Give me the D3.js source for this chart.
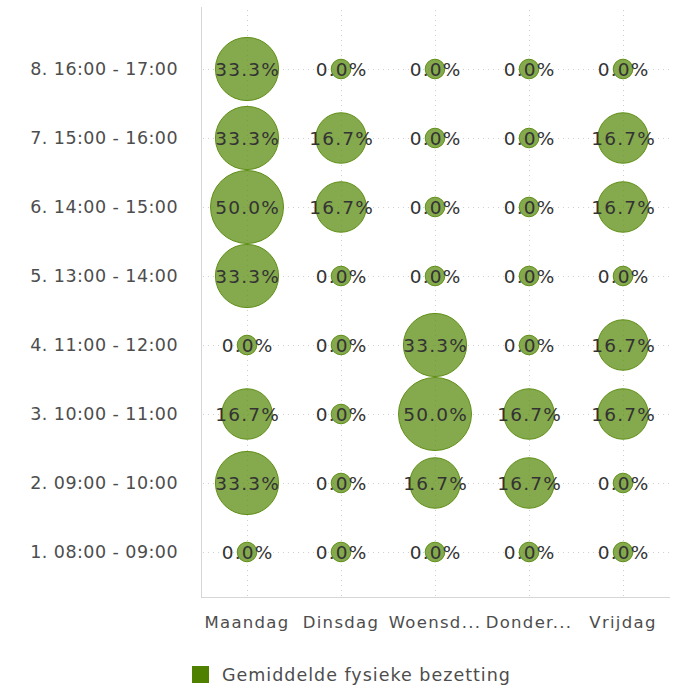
<!DOCTYPE html>
<html>
<head>
<meta charset="utf-8">
<script src="https://cdn.jsdelivr.net/npm/d3@7"></script>
<style>
  html, body { margin: 0; padding: 0; background: #fff; }
  svg { display: block; font-family: "DejaVu Sans", sans-serif; }
</style>
</head>
<body>
<svg id="chart" width="673" height="688"></svg>
<script>
// Weekdays (columns) and hourly slots (rows, bottom to top)
const days = ["Maandag", "Dinsdag", "Woensdag", "Donderdag", "Vrijdag"];
const dayLabels = ["Maandag", "Dinsdag", "Woensd...", "Donder...", "Vrijdag"];
const slots = [
  "1. 08:00 - 09:00", "2. 09:00 - 10:00", "3. 10:00 - 11:00", "4. 11:00 - 12:00",
  "5. 13:00 - 14:00", "6. 14:00 - 15:00", "7. 15:00 - 16:00", "8. 16:00 - 17:00"
];
// Average physical occupancy (%) per slot, one array per weekday
const maandag   = [0.0, 33.3, 16.7, 0.0, 33.3, 50.0, 33.3, 33.3];
const dinsdag   = [0.0, 0.0, 0.0, 0.0, 0.0, 16.7, 16.7, 0.0];
const woensdag  = [0.0, 16.7, 50.0, 33.3, 0.0, 0.0, 0.0, 0.0];
const donderdag = [0.0, 16.7, 16.7, 0.0, 0.0, 0.0, 0.0, 0.0];
const vrijdag   = [0.0, 0.0, 16.7, 16.7, 0.0, 16.7, 16.7, 0.0];
const seriesName = "Gemiddelde fysieke bezetting";

const byDay = [maandag, dinsdag, woensdag, donderdag, vrijdag];
const cells = [];
days.forEach((d, i) => slots.forEach((s, j) => cells.push({ day: d, slot: s, value: byDay[i][j] })));

const svg = d3.select("#chart");
const plot = { left: 201, right: 670, top: 7, bottom: 597 };

const x = d3.scaleBand().domain(days).range([200, 670]);
const y = d3.scalePoint().domain(slots).range([552, 69]);
const r = d3.scaleSqrt().domain([0, 50]).range([9.8, 36.5]);
const cx = d => x(d) + x.bandwidth() / 2;

const grid = "#cfcfcf";

// dotted grid lines
svg.append("g").selectAll("line").data(slots).join("line")
  .attr("x1", plot.left + 2).attr("x2", plot.right)
  .attr("y1", d => y(d) + 0.5).attr("y2", d => y(d) + 0.5)
  .attr("stroke", grid).attr("stroke-width", 1).attr("stroke-dasharray", "1,4");
svg.append("g").selectAll("line").data(days).join("line")
  .attr("x1", d => Math.round(cx(d)) + 0.5)
  .attr("x2", d => Math.round(cx(d)) + 0.5)
  .attr("y1", 10).attr("y2", plot.bottom)
  .attr("stroke", grid).attr("stroke-width", 1).attr("stroke-dasharray", "1,4");

// axis lines
svg.append("line").attr("x1", plot.left + 0.5).attr("x2", plot.left + 0.5)
  .attr("y1", plot.top).attr("y2", plot.bottom).attr("stroke", "#d6d6d6");
svg.append("line").attr("x1", plot.left).attr("x2", plot.right)
  .attr("y1", plot.bottom + 0.5).attr("y2", plot.bottom + 0.5).attr("stroke", "#d6d6d6");

// bubbles
svg.append("g").selectAll("circle").data(cells).join("circle")
  .attr("cx", d => cx(d.day))
  .attr("cy", d => y(d.slot))
  .attr("r", d => r(d.value))
  .attr("fill", "#5c8c12").attr("fill-opacity", 0.75)
  .attr("stroke", "#5f8f16").attr("stroke-width", 1);

// value labels
svg.append("g").selectAll("text").data(cells).join("text")
  .attr("x", d => cx(d.day) + 0.6)
  .attr("y", d => y(d.slot))
  .attr("text-anchor", "middle").attr("dy", "0.36em")
  .attr("font-size", 18.5).attr("letter-spacing", 1.2).attr("fill", "#333")
  .text(d => d.value.toFixed(1) + "%");

// y axis labels
svg.append("g").selectAll("text").data(slots).join("text")
  .attr("x", 178).attr("y", d => y(d)).attr("dy", "0.36em")
  .attr("text-anchor", "end").attr("font-size", 17.5).attr("letter-spacing", 0.45).attr("fill", "#4d4d4d")
  .text(d => d);

// x axis labels
svg.append("g").selectAll("text").data(days).join("text")
  .attr("x", d => cx(d)).attr("y", 622).attr("dy", "0.36em")
  .attr("text-anchor", "middle").attr("font-size", 16.5).attr("letter-spacing", 1.3).attr("fill", "#4d4d4d")
  .text((d, i) => dayLabels[i]);

// legend
const lg = svg.append("g").attr("transform", "translate(192,675)");
lg.append("rect").attr("x", 0).attr("y", -9).attr("width", 17).attr("height", 17).attr("fill", "#4f8000");
lg.append("text").attr("x", 30).attr("y", 0).attr("dy", "0.36em")
  .attr("font-size", 17.5).attr("letter-spacing", 1.0).attr("fill", "#4d4d4d").text(seriesName);
</script>
</body>
</html>
